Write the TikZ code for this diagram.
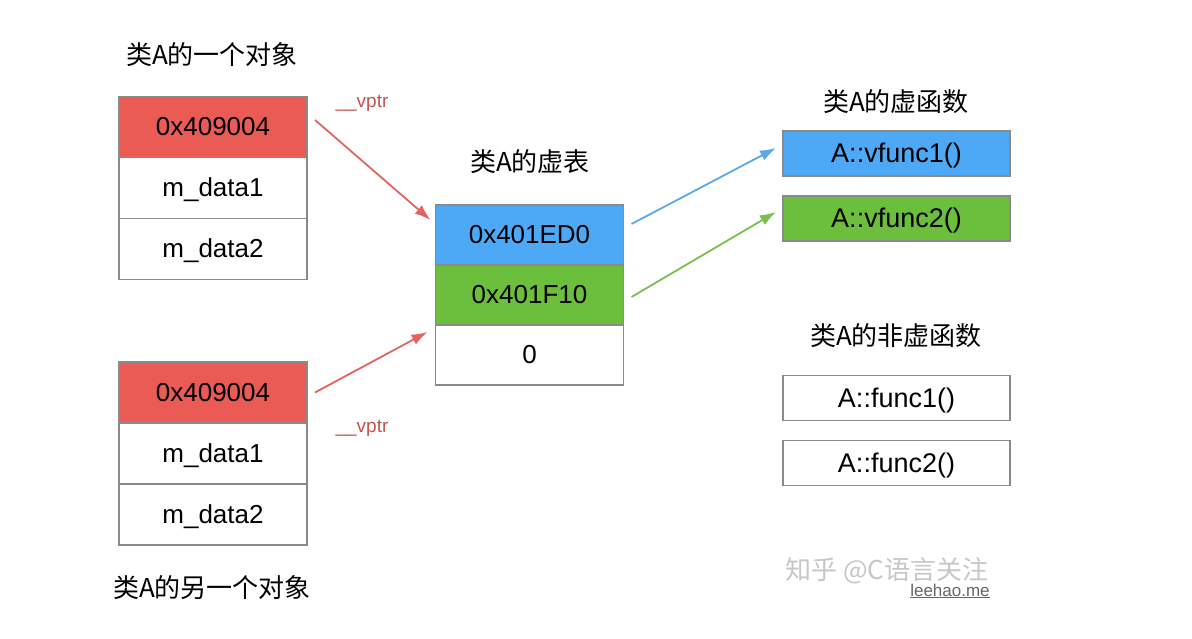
\documentclass[tikz,border=0pt]{standalone}
\usepackage{fontspec}
\setmainfont{Liberation Sans}
\newfontfamily\cjk{Noto Sans CJK SC}
\usetikzlibrary{arrows.meta,positioning}
\definecolor{ptrred}{HTML}{EA5B56}
\definecolor{tabblue}{HTML}{4DA8F6}
\definecolor{tabgreen}{HTML}{6CBE3D}
\definecolor{arrred}{HTML}{E2645E}
\definecolor{arrblue}{HTML}{5AAAEB}
\definecolor{arrgreen}{HTML}{77BF4E}
\definecolor{boxgray}{HTML}{8A8A8A}

\begin{document}
\begin{tikzpicture}[x=1pt,y=1pt,node distance=0pt,
  cell/.style={rectangle,draw=boxgray,line width=1.8pt,outer sep=0pt,minimum width=188pt,minimum height=61pt,text height=18pt,text depth=0pt,font=\fontsize{26}{30}\selectfont},
  fbox/.style={cell,minimum width=227pt,minimum height=45pt,text height=19pt,font=\fontsize{27}{31}\selectfont},
  title/.style={font=\cjk\fontsize{26}{30}\selectfont},
  ptr/.style={-{Latex[length=16pt,width=11pt]},line width=1.8pt}]

  \useasboundingbox[fill=white] (0,0) rectangle (1192,639);

  % first object
  \node[title] (objA) at (212,584) {类A的一个对象};
  \node[cell,fill=ptrred] (o1a) at (213,512) {0x409004};
  \node[cell] (o1b) [below=of o1a] {m\_data1};
  \node[cell] (o1c) [below=of o1b] {m\_data2};

  % second object
  \node[cell,fill=ptrred] (o2a) at (213,246.5) {0x409004};
  \node[cell] (o2b) [below=of o2a] {m\_data1};
  \node[cell] (o2c) [below=of o2b] {m\_data2};
  \node[title] (objB) at (212,51) {类A的另一个对象};

  % vtable
  \node[title] (vtab) at (530,477) {类A的虚表};
  \node[cell,fill=tabblue,minimum height=60pt] (v1) at (529.5,404) {0x401ED0};
  \node[cell,fill=tabgreen,minimum height=60pt] (v2) [below=of v1] {0x401F10};
  \node[cell,minimum height=60pt] (v3) [below=of v2] {0};

  % virtual functions
  \node[title] (vfun) at (896,537) {类A的虚函数};
  \node[fbox,fill=tabblue] (f1) at (896.5,485.5) {A::vfunc1()};
  \node[fbox,fill=tabgreen] (f2) [below=20pt of f1] {A::vfunc2()};

  % non virtual functions
  \node[title] (nvfun) at (896,303) {类A的非虚函数};
  \node[fbox] (g1) at (896.5,241) {A::func1()};
  \node[fbox] (g2) [below=20pt of g1] {A::func2()};

  \node[text=arrred!85!black,font=\fontsize{19}{22}\selectfont] (vp1) at (362,536) {\_\_vptr};
  \node[text=arrred!85!black,font=\fontsize{19}{22}\selectfont] (vp2) at (362,211) {\_\_vptr};

  \draw[ptr,arrred] ([shift={(8,7)}]o1a.east) -- ([shift={(-5,-15)}]v1.north west);
  \draw[ptr,arrred] ([shift={(8,0)}]o2a.east) -- ([shift={(-8,-7)}]v3.north west);
  \draw[ptr,arrblue] ([shift={(8,11)}]v1.east) -- ([shift={(-7,5.5)}]f1.west);
  \draw[ptr,arrgreen] ([shift={(8,-2)}]v2.east) -- ([shift={(-7,6.5)}]f2.west);

  % watermark
  \node[text=black!22,font=\cjk\fontsize{26}{30}\selectfont] (wm) at (887,68) {知乎 @C语言关注};
  \node[text=black!60,font=\fontsize{17}{19}\selectfont,inner sep=1pt] (site) at (950,48) {\underline{leehao.me}};
\end{tikzpicture}
\end{document}
